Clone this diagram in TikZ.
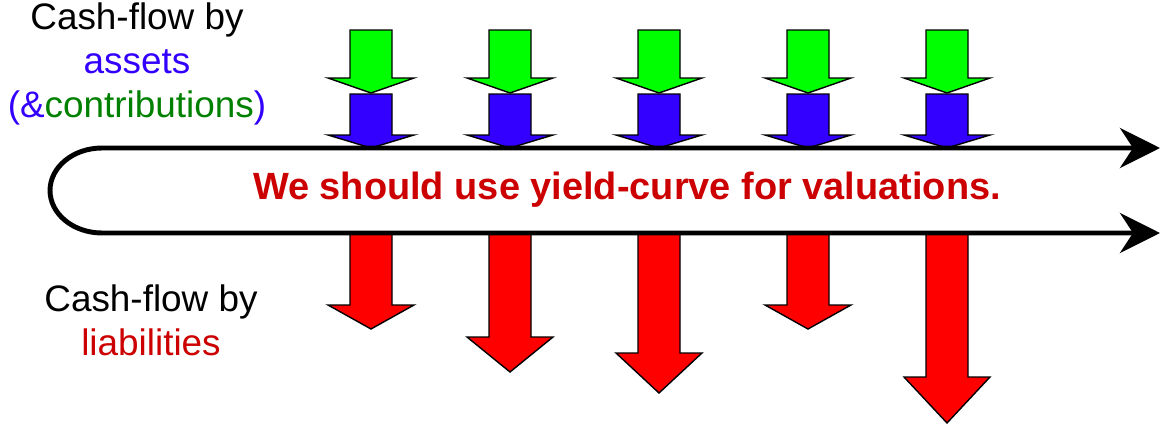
\documentclass[tikz,border=0pt]{standalone}
\usepackage{fontspec}
\setmainfont{Liberation Sans}
\usepackage{tikz}
\usetikzlibrary{arrows.meta, positioning}
\definecolor{assetgreen}{RGB}{0, 255, 0}
\definecolor{assetblue}{RGB}{51, 0, 255}
\definecolor{liabred}{RGB}{255, 0, 0}
\definecolor{textred}{RGB}{204, 0, 0}
\definecolor{textgreen}{RGB}{0, 128, 0}

\begin{document}
\begin{tikzpicture}[x=0.02cm, y=0.02cm]
  \useasboundingbox (0,0) rectangle (1161,427);

  % Inflows: contributions (green) on top of assets (blue)
  \foreach \x in {371, 510, 659, 808, 947} {
    \draw[fill=assetgreen, line width=0.8pt, line join=miter]
      ({\x-21},397) -- ({\x+21},397) -- ({\x+21},349) -- ({\x+43},349)
      -- (\x,334) -- ({\x-43},349) -- ({\x-21},349) -- cycle;
    \draw[fill=assetblue, line width=0.8pt, line join=miter]
      ({\x-21},333) -- ({\x+21},333) -- ({\x+21},292) -- ({\x+43},292)
      -- (\x,279) -- ({\x-43},292) -- ({\x-21},292) -- cycle;
  }

  % Outflows: liabilities (red), each with its own length
  \foreach \x/\b/\p in {371/122/98, 510/90/55, 659/74/34, 808/122/98, 947/50/4} {
    \draw[fill=liabred, line width=0.8pt, line join=miter]
      ({\x-21},195) -- ({\x+21},195) -- ({\x+21},\b) -- ({\x+43},\b)
      -- (\x,\p) -- ({\x-43},\b) -- ({\x-21},\b) -- cycle;
  }

  % Time line, folded back on the left
  \coordinate (topL) at (102,279);
  \coordinate (topR) at (1160,279);
  \coordinate (botR) at (1160,194);
  \draw[{Stealth[length=0.8cm, width=0.8cm]}-{Stealth[length=0.8cm, width=0.8cm]},
        line width=2.8pt]
    (topR) -- (topL) arc[start angle=90, end angle=270,
                         x radius=1.04cm, y radius=0.85cm] -- (botR);

  % Message in the middle
  \node[textred, font=\fontsize{21.6}{26}\selectfont\bfseries] (msg) at (627,237)
    {We should use yield-curve for valuations.};

  % Left labels
  \node[align=center, font=\fontsize{21}{25}\selectfont] (assetlbl) at (137,363) {
    Cash-flow by\\
    {\color{assetblue}assets}\\
    {\color{assetblue}(\&{\color{textgreen}contributions})}
  };
  \node[align=center, font=\fontsize{21}{25}\selectfont] (liablbl) at (151,107) {
    Cash-flow by\\
    {\color{textred}liabilities}
  };
\end{tikzpicture}
\end{document}
